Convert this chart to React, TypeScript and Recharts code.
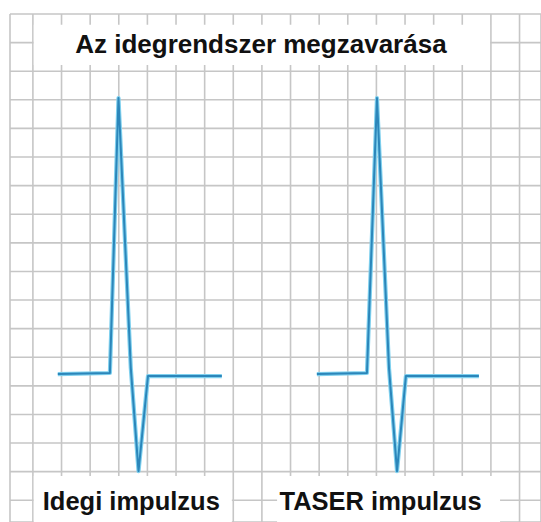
import {
  CartesianGrid,
  Line,
  LineChart,
  ReferenceArea,
  XAxis,
  YAxis,
} from 'recharts';

// values in grid-cell units (one cell = one grid square)
const gridTicks = [0, 1, 2, 3, 4, 5, 6, 7, 8, 9, 10, 11, 12, 13, 14, 15, 16, 17];

const nervePulseX = [0.87, 2.69, 2.99, 3.42, 3.69, 4.02, 6.6];
const nervePulseY = [4.41, 4.45, 14.06, 4.62, 1.02, 4.34, 4.34];

const taserPulseX = [9.92, 11.67, 12.02, 12.44, 12.72, 13.03, 15.58];
const taserPulseY = [4.41, 4.45, 14.06, 4.62, 1.02, 4.34, 4.34];

const titleText = 'Az idegrendszer megzavarása';
const nerveLabel = 'Idegi impulzus';
const taserLabel = 'TASER impulzus';

const toPoints = (xs: number[], ys: number[]) =>
  xs.map((x, i) => ({ x, y: ys[i] }));

const nerveData = toPoints(nervePulseX, nervePulseY);
const taserData = toPoints(taserPulseX, taserPulseY);

const FONT = '"Liberation Sans", Arial, sans-serif';

const boxLabel =
  (text: string, dx: number, dy: number, size: number) =>
  ({ viewBox }: any) => {
    if (!viewBox) return null;
    return (
      <text
        x={viewBox.x + viewBox.width / 2 + dx}
        y={viewBox.y + dy}
        textAnchor="middle"
        fontFamily={FONT}
        fontWeight="bold"
        fontSize={size}
        fill="#111"
      >
        {text}
      </text>
    );
  };

export default function App() {
  return (
    <div style={{ position: 'absolute', left: 0, top: 0, background: '#fff' }}>
      <LineChart
        width={541}
        height={522}
        margin={{ top: 14, right: 0, bottom: 0, left: 10 }}
      >
        <CartesianGrid stroke="#c6c6c6" strokeWidth={1.6} />
        <XAxis
          type="number"
          dataKey="x"
          domain={[-0.8, 17.75]}
          ticks={gridTicks}
          allowDataOverflow
          hide
        />
        <YAxis
          type="number"
          dataKey="y"
          domain={[-0.76, 17]}
          ticks={gridTicks}
          allowDataOverflow
          hide
        />
        <ReferenceArea
          x1={0.03}
          x2={15.97}
          y1={15.22}
          y2={16.62}
          fill="#fff"
          fillOpacity={1}
          stroke="none"
          ifOverflow="visible"
          label={boxLabel(titleText, -1, 28, 26)}
        />
        <ReferenceArea
          x1={0.03}
          x2={6.95}
          y1={-0.76}
          y2={0.85}
          fill="#fff"
          fillOpacity={1}
          stroke="none"
          ifOverflow="visible"
          label={boxLabel(nerveLabel, -1.5, 34, 25.5)}
        />
        <ReferenceArea
          x1={8.53}
          x2={16.32}
          y1={-0.76}
          y2={0.85}
          fill="#fff"
          fillOpacity={1}
          stroke="none"
          ifOverflow="visible"
          label={boxLabel(taserLabel, -8, 34, 25.5)}
        />
        {/* soft cyan halo under each trace */}
        <Line
          data={nerveData}
          dataKey="y"
          type="linear"
          stroke="#7fd0ee"
          strokeWidth={4.2}
          strokeLinejoin="round"
          dot={false}
          activeDot={false}
          isAnimationActive={false}
        />
        <Line
          data={taserData}
          dataKey="y"
          type="linear"
          stroke="#7fd0ee"
          strokeWidth={4.2}
          strokeLinejoin="round"
          dot={false}
          activeDot={false}
          isAnimationActive={false}
        />
        <Line
          data={nerveData}
          dataKey="y"
          type="linear"
          stroke="#2c86ba"
          strokeWidth={2}
          strokeLinejoin="round"
          dot={false}
          activeDot={false}
          isAnimationActive={false}
        />
        <Line
          data={taserData}
          dataKey="y"
          type="linear"
          stroke="#2c86ba"
          strokeWidth={2}
          strokeLinejoin="round"
          dot={false}
          activeDot={false}
          isAnimationActive={false}
        />
      </LineChart>
    </div>
  );
}
